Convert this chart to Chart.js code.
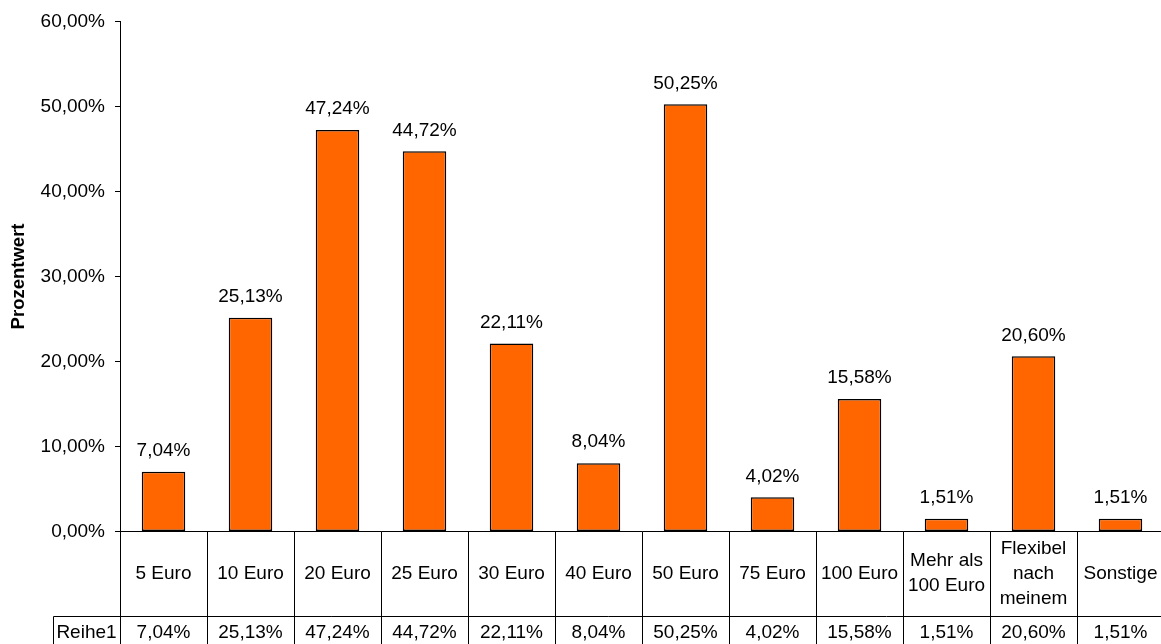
<!DOCTYPE html>
<html>
<head>
<meta charset="utf-8">
<title>Prozentwert</title>
<script src="https://cdn.jsdelivr.net/npm/chart.js@4.4.1/dist/chart.umd.min.js"></script>
<style>
    html, body { margin: 0; padding: 0; background: #fff; overflow: hidden; }
    #wrap { width: 1175px; height: 644px; }
</style>
</head>
<body>
<div id="wrap"><canvas id="chart" width="1175" height="644"></canvas></div>
<script>
const categories = [
    ["5 Euro"], ["10 Euro"], ["20 Euro"], ["25 Euro"], ["30 Euro"], ["40 Euro"],
    ["50 Euro"], ["75 Euro"], ["100 Euro"], ["Mehr als", "100 Euro"],
    ["Flexibel", "nach", "meinem"], ["Sonstige"]
];
const seriesName = "Reihe1";
const values = [7.04, 25.13, 47.24, 44.72, 22.11, 8.04, 50.25, 4.02, 15.58, 1.51, 20.60, 1.51];
const yMin = 0;
const yMax = 60;
const yStep = 10;
const yTitle = "Prozentwert";

const FONT = "'Liberation Sans', Arial, Helvetica, sans-serif";
const BAR_COLOR = "#ff6600";

function pct(v) {
    return v.toFixed(2).replace(".", ",") + "%";
}

// value labels above each bar
const barLabels = {
    id: "barLabels",
    afterDatasetsDraw(chart) {
        const ctx = chart.ctx;
        const meta = chart.getDatasetMeta(0);
        ctx.save();
        ctx.font = "19px " + FONT;
        ctx.fillStyle = "#000";
        ctx.textAlign = "center";
        ctx.textBaseline = "middle";
        meta.data.forEach((bar, i) => {
            ctx.fillText(pct(values[i]), bar.x, bar.y - 21);
        });
        ctx.restore();
    }
};

// data table under the x axis (category row + series row)
const dataTable = {
    id: "dataTable",
    afterDraw(chart) {
        const ctx = chart.ctx;
        const xs = chart.scales.x;
        const n = categories.length;
        const w = (xs.right - xs.left) / n;
        const top = chart.chartArea.bottom;
        const split = top + 84.5;
        const bottom = chart.height;
        const legendLeft = 53;

        ctx.save();
        ctx.strokeStyle = "#000";
        ctx.lineWidth = 1;
        ctx.beginPath();
        for (let i = 0; i <= n; i++) {
            const x = Math.round(xs.left + i * w) + 0.5;
            ctx.moveTo(x, top);
            ctx.lineTo(x, bottom);
        }
        ctx.moveTo(legendLeft + 0.5, Math.round(split) + 0.5);
        ctx.lineTo(xs.right, Math.round(split) + 0.5);
        ctx.moveTo(legendLeft + 0.5, Math.round(split) + 0.5);
        ctx.lineTo(legendLeft + 0.5, bottom);
        ctx.stroke();

        ctx.font = "19px " + FONT;
        ctx.fillStyle = "#000";
        ctx.textAlign = "center";
        ctx.textBaseline = "middle";
        const midCat = (top + split) / 2;
        const lineH = 25;
        categories.forEach((lines, i) => {
            const cx = xs.getPixelForValue(i);
            const y0 = midCat - (lines.length - 1) * lineH / 2;
            lines.forEach((t, k) => ctx.fillText(t, cx, y0 + k * lineH));
            ctx.fillText(pct(values[i]), cx, split + 17);
        });
        ctx.fillText(seriesName, (legendLeft + xs.left) / 2, split + 17);
        ctx.restore();
    }
};

const ctx = document.getElementById("chart").getContext("2d");
const chart = new Chart(ctx, {
    type: "bar",
    data: {
        labels: categories,
        datasets: [{
            label: seriesName,
            data: values,
            backgroundColor: BAR_COLOR,
            borderColor: "#000",
            borderWidth: 1.5,
            borderSkipped: false,
            barPercentage: 0.5,
            categoryPercentage: 1
        }]
    },
    options: {
        responsive: false,
        animation: false,
        layout: { padding: { top: 21, right: 11, left: 0, bottom: 0 } },
        plugins: {
            legend: { display: false },
            tooltip: { enabled: false }
        },
        scales: {
            x: {
                grid: { display: false },
                ticks: { display: false },
                border: { display: true, color: "#000", width: 1 },
                afterFit(scale) { scale.height = 112.5; }
            },
            y: {
                min: yMin,
                max: yMax,
                grid: {
                    display: true,
                    drawOnChartArea: false,
                    drawTicks: true,
                    tickLength: 5,
                    color: "#000"
                },
                border: { display: true, color: "#000", width: 1 },
                ticks: {
                    stepSize: yStep,
                    padding: 10,
                    color: "#000",
                    font: { family: FONT, size: 19 },
                    callback: (v) => pct(v)
                },
                title: {
                    display: true,
                    text: yTitle,
                    color: "#000",
                    font: { family: FONT, size: 18.5, weight: "bold" },
                    padding: { top: 8, bottom: 0 }
                },
                afterFit(scale) { scale.width = 120; }
            }
        }
    },
    plugins: [barLabels, dataTable]
});
</script>
</body>
</html>
